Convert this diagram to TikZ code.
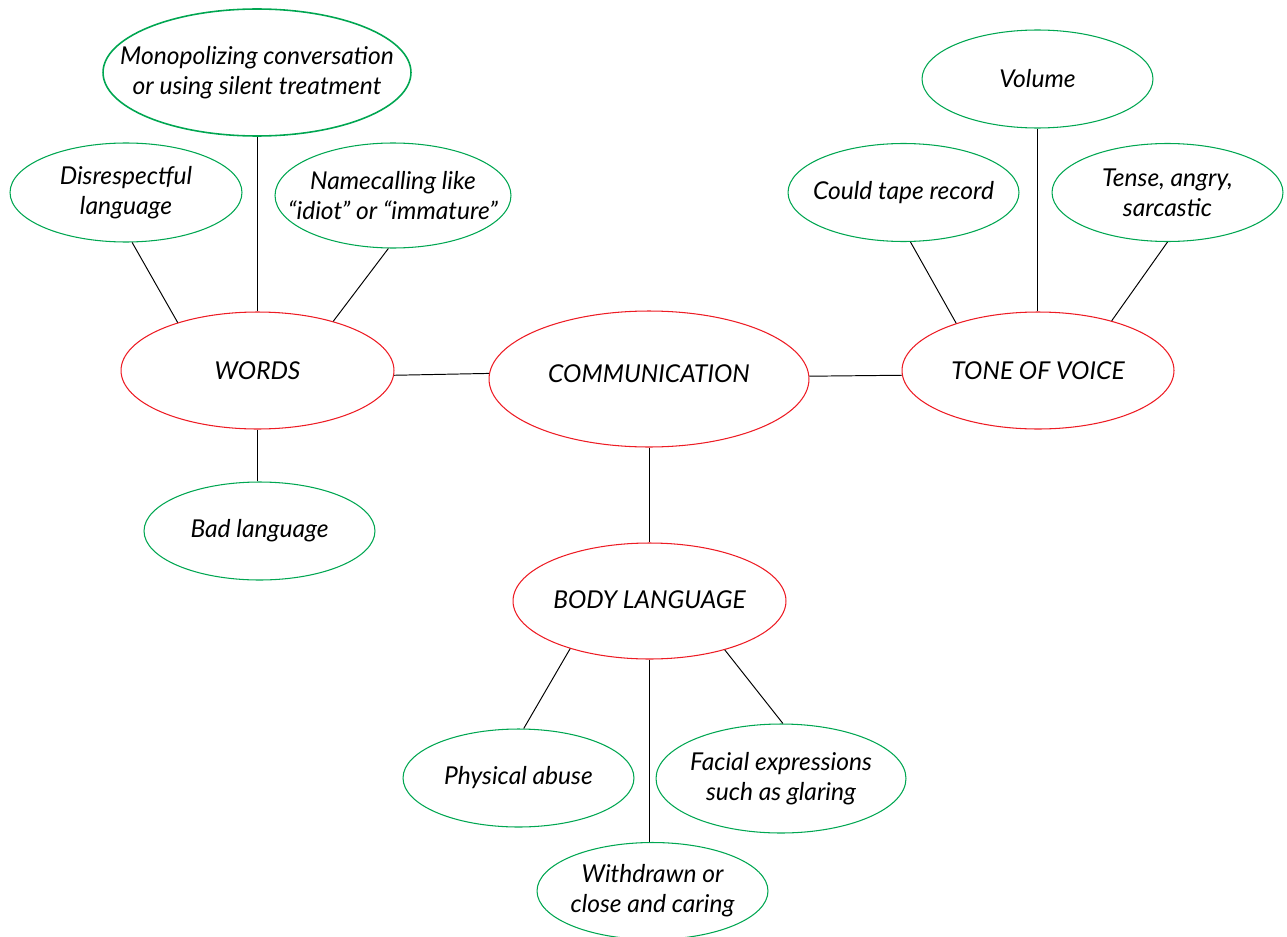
\documentclass[tikz,border=0pt]{standalone}
\usepackage{fontspec}
\setmainfont{Lato}
\usepackage{tikz}
\usetikzlibrary{shapes.geometric}
\usetikzlibrary{positioning}
\definecolor{mgreen}{RGB}{0, 166, 81}
\definecolor{mred}{RGB}{237, 28, 36}
\tikzset{txt/.style = {align = center, inner sep = 0,
                       font = \fontsize{14}{17}\selectfont\itshape}}
\tikzset{bubble/.style = {ellipse, inner sep = 0, label = {[txt]center:#1}}}
\tikzset{topic/.style = {bubble = {#1}, draw = mred, line width = 0.6pt}}
\tikzset{idea/.style = {bubble = {#1}, draw = mgreen, line width = 0.6pt,
                        minimum width = 4.62cm, minimum height = 1.96cm}}
\tikzset{link/.style = {draw = black, line width = 0.55pt}}

\begin{document}
\begin{tikzpicture}[x=0.02cm, y=-0.02cm]
      \useasboundingbox (0, 0) rectangle (1287, 936);

      \node [topic = {\raisebox{0.22cm}{COMMUNICATION}}, minimum width = 6.4cm, minimum height = 2.72cm] (comm) at (649, 379) {};
      \node [topic = WORDS, minimum width = 5.46cm, minimum height = 2.34cm] (words) at (257.5, 370.5) {};
      \node [topic = TONE OF VOICE, minimum width = 5.44cm, minimum height = 2.34cm] (tone) at (1038, 370.5) {};
      \node [topic = {\raisebox{0.06cm}{BODY LANGUAGE}}, minimum width = 5.46cm, minimum height = 2.32cm] (body) at (649.5, 601) {};

      \node [idea = {Monopolizing conversation\\or using silent treatment}, line width = 0.9pt,
             minimum width = 6.16cm, minimum height = 2.54cm] (mono) at (257, 72.5) {};
      \node [idea = {Disrespectful\\language}, minimum width = 4.64cm, minimum height = 1.98cm] (disr) at (126, 192.5) {};
      \node [idea = {Namecalling like\\``idiot'' or ``immature''}, minimum width = 4.72cm, minimum height = 2.1cm] (name) at (393, 195.5) {};
      \node [idea = Bad language] (bad) at (259.5, 531) {};

      \node [idea = Volume] (vol) at (1037.5, 79) {};
      \node [idea = Could tape record] (tape) at (903.5, 192.5) {};
      \node [idea = {Tense, angry,\\sarcastic}] (tense) at (1167.5, 192.5) {};

      \node [idea = Physical abuse] (phys) at (518.5, 778) {};
      \node [idea = {Facial expressions\\such as glaring}, minimum width = 5cm, minimum height = 2.18cm] (face) at (781, 778.5) {};
      \node [idea = {Withdrawn or\\close and caring}, minimum height = 1.94cm] (with) at (652.5, 891) {};

      \draw [link] (words.-2.3) -- (comm.178.9);
      \draw [link] (comm.1.1) -- (tone.182.3);
      \draw [link] (comm) -- (comm |- body.north);

      \draw [link] (mono) -- (mono |- words.north);
      \draw [link] (disr.-83) -- (words.149);
      \draw [link] (name.-95) -- (words.33);
      \draw [link] (words) -- (words |- bad.north);

      \draw [link] (vol) -- (vol |- tone.north);
      \draw [link] (tape.-82) -- (tone.150);
      \draw [link] (tense.-90) -- (tone.34);

      \draw [link] (body.211) -- (phys.84);
      \draw [link] (body.-33) -- (face.88);
      \draw [link] (body) -- (body |- with.north);
    \end{tikzpicture}
\end{document}
